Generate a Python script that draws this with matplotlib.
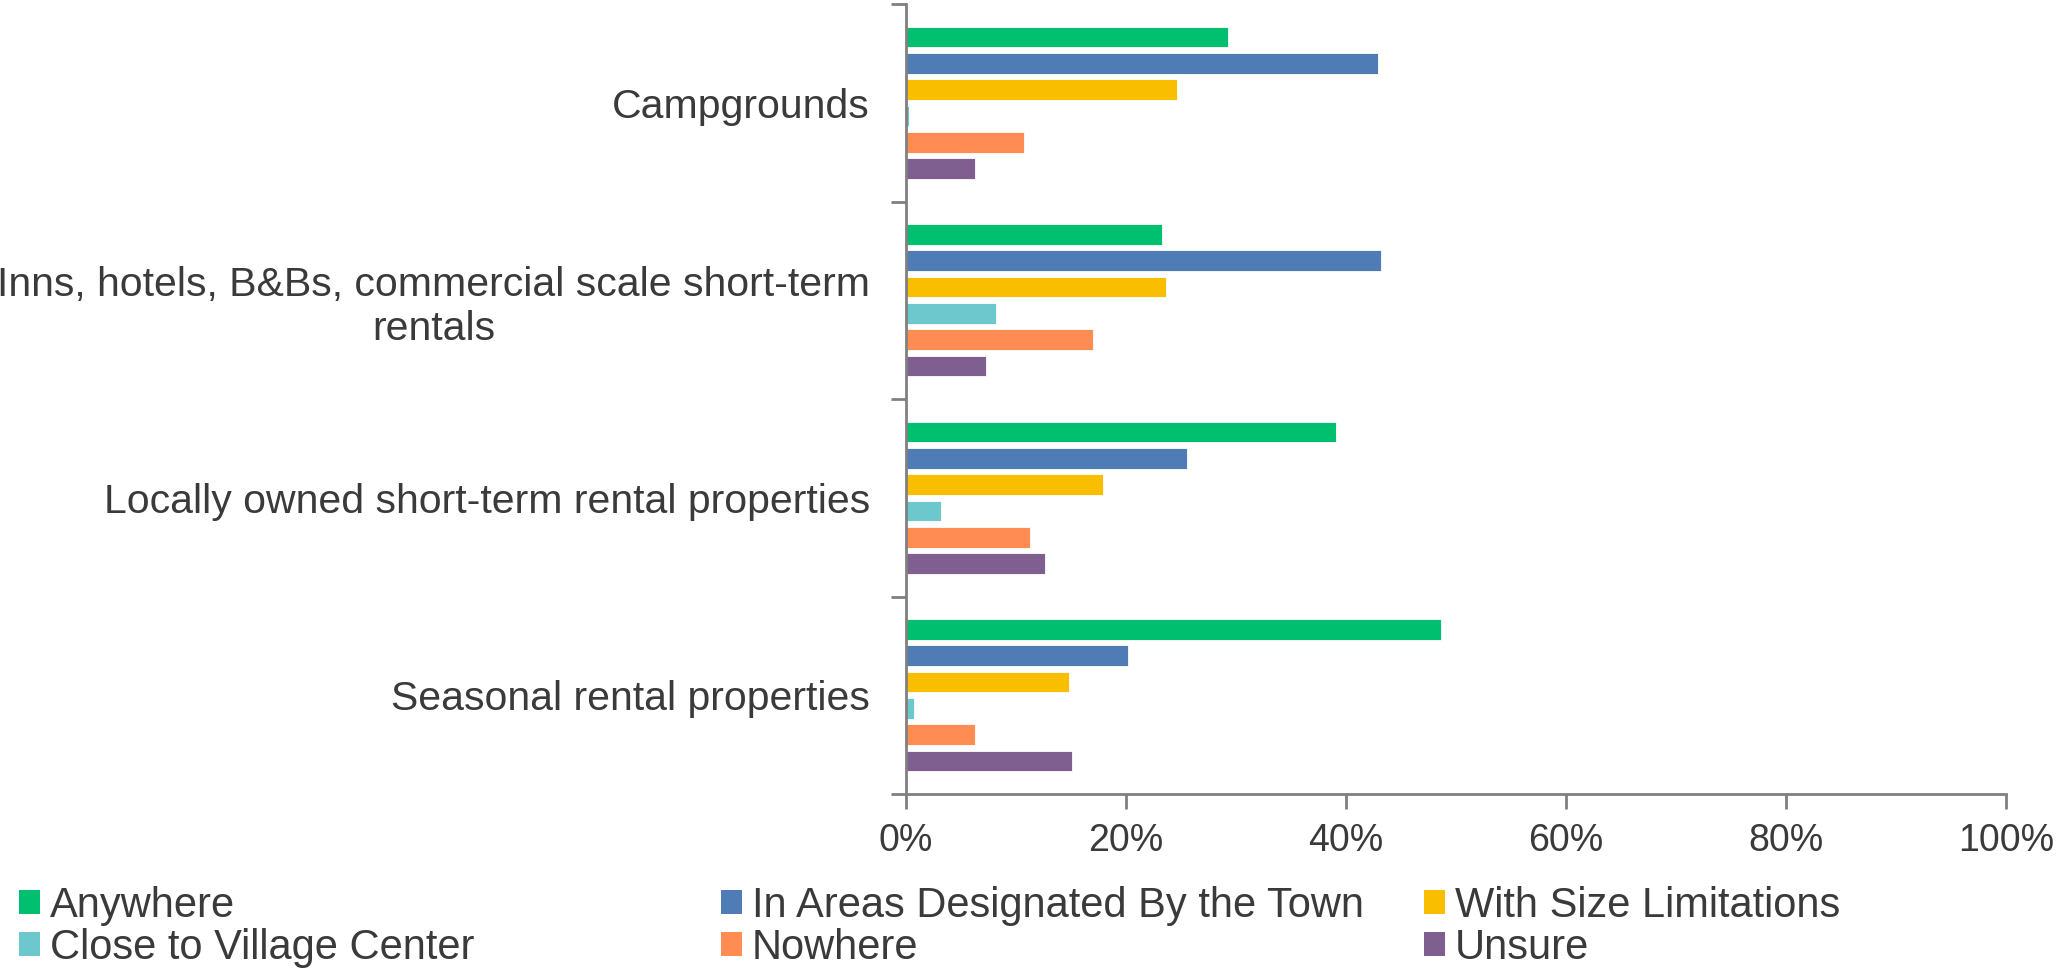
import matplotlib
matplotlib.use("Agg")
import matplotlib.pyplot as plt
from matplotlib.patches import Patch
from matplotlib.ticker import FixedLocator, PercentFormatter
import numpy as np

plt.rcParams["font.family"] = ["Liberation Sans", "DejaVu Sans"]

categories = [
    "Campgrounds",
    "Inns, hotels, B&Bs, commercial scale short-term\nrentals",
    "Locally owned short-term rental properties",
    "Seasonal rental properties",
]
series_names = [
    "Anywhere",
    "In Areas Designated By the Town",
    "With Size Limitations",
    "Close to Village Center",
    "Nowhere",
    "Unsure",
]
# percent of respondents, one list per series, in category order
anywhere = [29.3, 23.3, 39.1, 48.6]
designated = [42.9, 43.2, 25.5, 20.2]
size_limits = [24.6, 23.6, 17.9, 14.8]
village_center = [0.3, 8.2, 3.2, 0.7]
nowhere = [10.7, 17.0, 11.3, 6.3]
unsure = [6.3, 7.3, 12.6, 15.1]
series_values = [anywhere, designated, size_limits, village_center, nowhere, unsure]
colors = ["#00BF6F", "#4F7CB4", "#F9BE00", "#6CC8CC", "#FF8C52", "#7F5F8F"]

text_color = "#3A3A3A"
axis_color = "#808080"

fig = plt.figure(figsize=(20.59, 9.75), dpi=100)
ax = fig.add_axes([906 / 2059, 1 - 794 / 975, 1100 / 2059, 790 / 975])

pitch = 0.133
height = 0.105
y = np.arange(len(categories))
for i, (vals, col) in enumerate(zip(series_values, colors)):
    offs = (i - 2.5) * pitch
    ax.barh(y + offs, vals, height=height, color=col, edgecolor="white",
            linewidth=0.6)

ax.set_xlim(0, 100)
ax.set_ylim(len(categories) - 0.5, -0.5)
ax.xaxis.set_major_locator(FixedLocator([0, 20, 40, 60, 80, 100]))
ax.xaxis.set_major_formatter(PercentFormatter(decimals=0))

# category boundaries carry the tick marks, labels sit at the centres
ax.yaxis.set_major_locator(FixedLocator(np.arange(-0.5, len(categories), 1.0)))
ax.yaxis.set_minor_locator(FixedLocator(y))
ax.set_yticklabels([], minor=False)
ax.set_yticklabels(categories, minor=True, multialignment="center")
ax.tick_params(axis="y", which="major", length=11, width=2, color=axis_color)
ax.tick_params(axis="y", which="minor", length=0, pad=26, labelsize=29.5,
               labelcolor=text_color)
ax.tick_params(axis="x", length=11, width=2, color=axis_color, pad=10,
               labelsize=27, labelcolor=text_color)

for side in ["top", "right"]:
    ax.spines[side].set_visible(False)
for side in ["left", "bottom"]:
    ax.spines[side].set_color(axis_color)
    ax.spines[side].set_linewidth(2)

# legend laid out in three equal columns of two entries
col_x = [19 / 2059, 721 / 2059, 1424 / 2059]
for c in range(3):
    handles = [Patch(facecolor=colors[k], edgecolor="none", label=series_names[k])
               for k in (c, c + 3)]
    leg = fig.legend(handles=handles, loc="upper left",
                     bbox_to_anchor=(col_x[c], 1 - 886 / 975), ncol=1,
                     frameon=False, fontsize=30, handlelength=0.5,
                     handleheight=0.5, handletextpad=0.24, labelspacing=0.05,
                     borderpad=0, borderaxespad=0)
    for t in leg.get_texts():
        t.set_color(text_color)

fig.savefig("out.png", dpi=100)
